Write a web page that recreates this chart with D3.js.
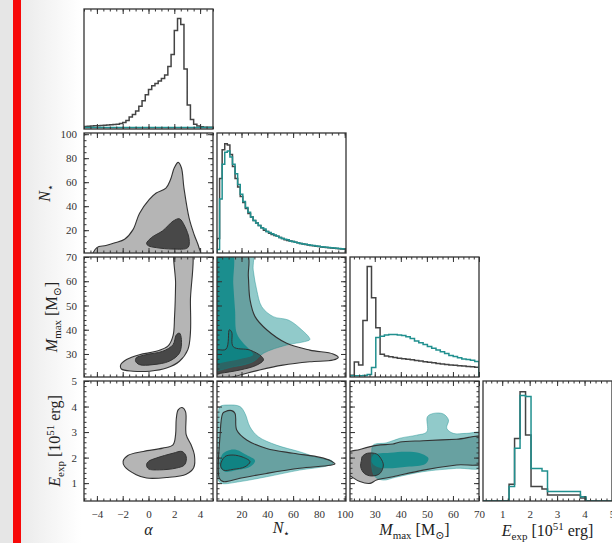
<!DOCTYPE html>
<html>
<head>
<meta charset="utf-8">
<script src="https://cdn.jsdelivr.net/npm/d3@7"></script>
<style>
  body { margin: 0; background: #fff; }
  svg { display: block; }
  .tick text { font-family: 'Liberation Serif', 'DejaVu Serif', serif; font-size: 11px; fill: #333; }
  .tick line { stroke: #333; }
  .label { font-family: 'Liberation Serif', 'DejaVu Serif', serif; font-size: 16px; fill: #222; }
</style>
</head>
<body>
<div class="canvas"></div>
<script>
// parameters (alpha, N*, Mmax, Eexp)
const paramDomains = [[-5, 5], [1, 101], [20.5, 70], [0.3, 5]];
const majorTicks = [[-4, -2, 0, 2, 4], [20, 40, 60, 80, 100], [30, 40, 50, 60, 70], [1, 2, 3, 4, 5]];
const minorSteps = [0.5, 5, 2, 0.2];

// 1D marginal histograms (relative heights)
const histBinStart = [-5, 1, 20.5, 0.25];
const histBinWidth = [0.25, 2, 1.65, 0.2];

const alphaHistGray = [0.02, 0.022, 0.025, 0.027, 0.028, 0.03, 0.032, 0.033, 0.035, 0.037, 0.04, 0.045,
  0.055, 0.07, 0.1, 0.12, 0.15, 0.19, 0.235, 0.285, 0.33, 0.36, 0.38, 0.4, 0.42, 0.45, 0.52, 0.62,
  0.82, 0.92, 0.87, 0.5, 0.2, 0.08, 0.04, 0.025, 0.018, 0.015, 0.015, 0.015];
const alphaHistTeal = [0.012, 0.012, 0.013, 0.012, 0.013, 0.012, 0.012, 0.013, 0.012, 0.012, 0.013, 0.012,
  0.012, 0.013, 0.012, 0.012, 0.013, 0.012, 0.012, 0.013, 0.012, 0.012, 0.013, 0.012, 0.012, 0.013,
  0.012, 0.012, 0.013, 0.012, 0.012, 0.013, 0.012, 0.012, 0.013, 0.012, 0.012, 0.013, 0.012, 0.012];

const nstarHistGray = [0.12, 0.62, 0.86, 0.91, 0.9, 0.82, 0.72, 0.62, 0.55, 0.47, 0.42, 0.37, 0.33, 0.3,
  0.27, 0.25, 0.23, 0.21, 0.19, 0.18, 0.165, 0.155, 0.145, 0.14, 0.13, 0.12, 0.11, 0.105, 0.1, 0.095,
  0.09, 0.085, 0.08, 0.075, 0.07, 0.066, 0.063, 0.06, 0.057, 0.054, 0.051, 0.048, 0.046, 0.044, 0.042,
  0.04, 0.038, 0.036, 0.034, 0.032];
const nstarHistTeal = [0.03, 0.45, 0.74, 0.84, 0.85, 0.8, 0.74, 0.66, 0.57, 0.49, 0.43, 0.38, 0.34, 0.3,
  0.27, 0.25, 0.23, 0.21, 0.2, 0.18, 0.17, 0.16, 0.15, 0.14, 0.13, 0.12, 0.115, 0.11, 0.1, 0.095, 0.09,
  0.085, 0.08, 0.076, 0.072, 0.068, 0.065, 0.062, 0.059, 0.056, 0.053, 0.05, 0.048, 0.046, 0.044, 0.042,
  0.04, 0.038, 0.036, 0.034];

const mmaxHistGray = [0.015, 0.125, 0.1, 0.47, 0.92, 0.66, 0.41, 0.19, 0.175, 0.168, 0.162, 0.157, 0.152,
  0.148, 0.143, 0.138, 0.133, 0.128, 0.123, 0.118, 0.113, 0.108, 0.104, 0.1, 0.097, 0.094, 0.091, 0.088,
  0.085, 0.082];
const mmaxHistTeal = [0.01, 0.01, 0.01, 0.012, 0.02, 0.08, 0.33, 0.34, 0.35, 0.355, 0.355, 0.35, 0.345,
  0.335, 0.32, 0.3, 0.285, 0.27, 0.255, 0.24, 0.225, 0.21, 0.195, 0.18, 0.17, 0.16, 0.15, 0.145, 0.14, 0.13];

const eexpHistGray = [0, 0, 0, 0, 0, 0.14, 0.52, 0.91, 0.55, 0.12, 0.12, 0.1, 0.05, 0.05, 0.05, 0.05,
  0.05, 0.05, 0.025, 0, 0, 0, 0, 0];
const eexpHistTeal = [0, 0, 0, 0, 0, 0.12, 0.44, 0.88, 0.87, 0.27, 0.27, 0.25, 0.08, 0.08, 0.08, 0.08,
  0.08, 0.08, 0.035, 0, 0, 0, 0, 0];

const histGray = [alphaHistGray, nstarHistGray, mmaxHistGray, eexpHistGray];
const histTeal = [alphaHistTeal, nstarHistTeal, mmaxHistTeal, eexpHistTeal];

// 2D credible regions, outline points in data units [x, y]
const alphaNstarGrayOuter = [[-4.3, -2], [-4.0, 5.5], [-3.3, 7.2], [-2.6, 9.5], [-1.85, 12.5], [-1.2, 20.5],
  [-0.7, 34], [0.05, 45.5], [0.6, 51], [1.35, 55], [1.7, 62], [2.0, 72], [2.3, 76.5], [2.55, 72], [2.75, 55],
  [3.15, 30], [3.55, 16], [3.9, 6], [4.0, -2]];
const alphaNstarGrayInner = [[-0.15, 9], [0.25, 14], [1.1, 19.5], [1.9, 27.5], [2.4, 29.5], [2.8, 23.5],
  [3.15, 12.5], [3.05, 5.5], [1.9, 4.3], [0.6, 5.5], [0.0, 7]];

const alphaMmaxGrayOuter = [[2.1, 74], [2.1, 59], [2.02, 45.5], [1.9, 37.5], [1.5, 33.2], [0.6, 31.1],
  [-0.7, 29.7], [-1.7, 27.7], [-2.15, 25.6], [-2.1, 23.8], [-1.2, 22.9], [0.1, 22.9], [1.4, 24.2], [2.4, 27],
  [3.05, 31.8], [3.25, 38.7], [3.25, 52], [3.25, 74]];
const alphaMmaxGrayInner = [[-0.95, 28.4], [-0.2, 29.7], [1.1, 31.1], [1.9, 33.8], [2.15, 37.8], [2.4, 38.6],
  [2.55, 36], [2.4, 30.4], [1.6, 27], [0.35, 25.6], [-0.7, 25.6], [-1.0, 27]];

const alphaEexpGrayOuter = [[2.3, 3.87], [2.6, 3.96], [2.87, 3.8], [2.92, 2.9], [3.3, 2.5], [3.56, 2.1],
  [3.5, 1.6], [2.92, 1.35], [1.4, 1.22], [-0.15, 1.2], [-0.95, 1.33], [-1.85, 1.65], [-1.97, 1.85],
  [-1.6, 2.08], [-0.4, 2.24], [1.1, 2.37], [1.9, 2.5], [2.1, 2.9], [2.15, 3.5]];
const alphaEexpGrayInner = [[0, 1.85], [0.6, 1.98], [1.9, 2.17], [2.6, 2.24], [2.92, 2.04], [2.8, 1.72],
  [2.15, 1.59], [0.85, 1.52], [0, 1.56], [-0.15, 1.72]];

const nstarMmaxGrayOuter = [[-3, 72], [24, 72], [25.3, 62], [26.6, 52.3], [30.5, 45.4], [39.5, 40], [55, 34.4],
  [73, 31.6], [91, 30], [95, 28.6], [91, 27.5], [73, 26.8], [52, 25.4], [34, 23.4], [19, 21.3], [6, 19.5], [-3, 19]];
const nstarMmaxGrayInner = [[-3, 31.5], [8, 32], [10.6, 40], [12.4, 39], [13.6, 33], [26.6, 31.6], [35.7, 28.9],
  [37, 27.5], [31.8, 25.4], [18.8, 23.4], [3.3, 22], [-3, 21.5]];
const nstarMmaxTealOuter = [[-3, 72], [27.9, 72], [29.1, 64.6], [31.8, 56.4], [35.7, 49.5], [44.6, 45.4],
  [56.3, 44], [65.3, 40.6], [73, 36], [69, 35.1], [55, 33.7], [37, 30.3], [29, 26.8], [13.6, 24.7], [-3, 24]];
const nstarMmaxTealInner = [[-3, 72], [12.5, 72], [13.6, 59], [15, 48], [16.3, 38.5], [21.4, 34.4], [26.6, 31.6],
  [29, 29.6], [21.4, 28.2], [8.5, 26.8], [-3, 26.5]];

const nstarEexpGrayOuter = [[7.2, 3.8], [12.4, 3.84], [15, 3.73], [16.3, 3.08], [24, 2.69], [39.5, 2.36], [60, 2.17],
  [81, 2.01], [89, 1.88], [92.5, 1.75], [88.6, 1.7], [65, 1.58], [39.5, 1.38], [18.8, 1.19], [5.9, 1.06],
  [2.8, 1.19], [3.3, 2.82], [5.4, 3.73]];
const nstarEexpGrayInner = [[7.2, 2.04], [13.6, 2.1], [21.4, 2.01], [26.6, 1.84], [22.7, 1.64], [13.6, 1.54],
  [5.9, 1.51], [3.8, 1.71]];
const nstarEexpTealOuter = [[3.3, 4.0], [9.8, 4.06], [18.8, 4.0], [22.7, 3.73], [26.6, 3.2], [33, 2.82], [47, 2.49],
  [65, 2.23], [81, 1.97], [90, 1.88], [91.2, 1.78], [86, 1.67], [65, 1.51], [39.5, 1.25], [18.8, 1.06], [4.6, 0.99],
  [2, 1.12], [1.5, 2.5], [2, 3.7]];
const nstarEexpTealInner = [[5.9, 2.17], [11.1, 2.3], [16.3, 2.3], [24, 2.1], [30.5, 1.88], [26.6, 1.64],
  [16.3, 1.51], [7.2, 1.45], [3.3, 1.64], [3.8, 1.97]];

const mmaxEexpGrayOuter = [[19, 2.15], [24.3, 2.32], [30.7, 2.48], [37, 2.53], [39.7, 2.61], [48.6, 2.66],
  [61.4, 2.72], [72, 2.78], [72, 1.8], [61.4, 1.71], [48.6, 1.51], [37, 1.25], [30.7, 1.12], [28.2, 0.99],
  [24.3, 1.06], [21.1, 1.25], [19, 1.4]];
const mmaxEexpGrayInner = [[25.2, 2.04], [27.2, 2.17], [30.7, 2.14], [32.3, 1.97], [33.3, 1.71], [32, 1.38],
  [28.8, 1.28], [26, 1.38], [24.6, 1.64], [24.9, 1.9]];
const mmaxEexpTealOuter = [[29.4, 2.49], [34.6, 2.58], [39.7, 2.76], [46.1, 2.88], [50, 3.01], [50.2, 3.6],
  [52.5, 3.73], [56.3, 3.71], [58.3, 3.47], [57.6, 3.15], [60.1, 2.95], [65.3, 2.95], [72, 2.95], [72, 1.64],
  [61.4, 1.58], [48.6, 1.45], [38, 1.23], [33.3, 1.12], [30.1, 1.25], [28.8, 1.64], [28.8, 2.17]];
const mmaxEexpTealInner = [[29.4, 2.1], [35.9, 2.19], [42.3, 2.23], [47.4, 2.17], [50.6, 1.97], [49.4, 1.75],
  [42.3, 1.64], [34.6, 1.58], [30.7, 1.64], [28.8, 1.84]];

const regions = [
  { row: 1, col: 0, gray: [alphaNstarGrayOuter, alphaNstarGrayInner], teal: [] },
  { row: 2, col: 0, gray: [alphaMmaxGrayOuter, alphaMmaxGrayInner], teal: [] },
  { row: 3, col: 0, gray: [alphaEexpGrayOuter, alphaEexpGrayInner], teal: [] },
  { row: 2, col: 1, gray: [nstarMmaxGrayOuter, nstarMmaxGrayInner], teal: [nstarMmaxTealOuter, nstarMmaxTealInner] },
  { row: 3, col: 1, gray: [nstarEexpGrayOuter, nstarEexpGrayInner], teal: [nstarEexpTealOuter, nstarEexpTealInner] },
  { row: 3, col: 2, gray: [mmaxEexpGrayOuter, mmaxEexpGrayInner], teal: [mmaxEexpTealOuter, mmaxEexpTealInner] },
];

// axis labels
const labelParts = [
  [{ t: 'α', italic: true }],
  [{ t: 'N', italic: true }, { t: '⋆', sub: true }],
  [{ t: 'M', italic: true }, { t: 'max', sub: true }, { t: ' [M' }, { t: '⊙', sub: true }, { t: ']' }],
  [{ t: 'E', italic: true }, { t: 'exp', sub: true }, { t: ' [10' }, { t: '51', sup: true }, { t: ' erg]' }],
];

const COLOR = {
  grayLight: '#b5b5b5',
  grayDark: '#484848',
  edge: '#333',
  teal: '#0a8a8a',
  tealLine: '#21908f',
  histGray: '#444',
};

const W = 612;
const H = 543;
const panelW = 129;
const panelH = 120;
const gap = 4;
const gridLeft = 84;
const gridTop = 9;

const svg = d3.select('.canvas').append('svg').attr('width', W).attr('height', H);

const defs = svg.append('defs');
const grad = defs.append('linearGradient').attr('id', 'fade').attr('x1', 0).attr('x2', 1);
grad.append('stop').attr('offset', 0).attr('stop-color', '#ebebeb');
grad.append('stop').attr('offset', 1).attr('stop-color', '#ffffff');

svg.append('rect').attr('width', W).attr('height', H).attr('fill', '#fff');
svg.append('rect').attr('x', 0).attr('width', 13).attr('height', H).attr('fill', '#e6e6e6');
svg.append('rect').attr('x', 21).attr('width', 60).attr('height', H).attr('fill', 'url(#fade)');
svg.append('rect').attr('x', 13).attr('width', 8).attr('height', H).attr('fill', '#f70808');

const xScales = paramDomains.map((d, j) => {
  const x0 = gridLeft + j * (panelW + gap);
  return d3.scaleLinear().domain(d).range([x0, x0 + panelW]);
});
const yScales = paramDomains.map((d, i) => {
  const y0 = gridTop + i * (panelH + gap);
  return d3.scaleLinear().domain(d).range([y0 + panelH, y0]);
});

const minorValues = j => {
  const [a, b] = paramDomains[j];
  const s = minorSteps[j];
  return d3.range(Math.ceil(a / s) * s, b + 1e-9, s).map(v => +v.toFixed(4));
};

const panelGroup = (row, col) => {
  const x = xScales[col];
  const y = yScales[row];
  const id = `clip-${row}-${col}`;
  defs.append('clipPath').attr('id', id)
    .append('rect')
    .attr('x', x.range()[0]).attr('y', y.range()[1])
    .attr('width', panelW).attr('height', panelH);
  const g = svg.append('g').attr('id', `panel-${row}-${col}`);
  g.append('rect')
    .attr('x', x.range()[0]).attr('y', y.range()[1])
    .attr('width', panelW).attr('height', panelH)
    .attr('fill', '#fff');
  const content = g.append('g').attr('clip-path', `url(#${id})`);
  return { g, content };
};

const drawTicks = (g, row, col) => {
  const x = xScales[col];
  const y = yScales[row];
  const diag = row === col;
  const xMinor = minorValues(col);
  const yMinor = minorValues(row);
  const fmt = d3.format('');

  const place = (axis, tx, ty) => g.append('g')
    .attr('transform', `translate(${tx},${ty})`)
    .call(axis)
    .call(s => s.select('.domain').remove());

  // bottom
  place(d3.axisBottom(x).tickValues(xMinor).tickSize(-2.5).tickFormat(''), 0, y.range()[0]);
  place(d3.axisBottom(x).tickValues(majorTicks[col]).tickSize(-5).tickPadding(9)
    .tickFormat(row === 3 ? fmt : ''), 0, y.range()[0]);
  // top
  place(d3.axisTop(x).tickValues(xMinor).tickSize(-2.5).tickFormat(''), 0, y.range()[1]);
  place(d3.axisTop(x).tickValues(majorTicks[col]).tickSize(-5).tickFormat(''), 0, y.range()[1]);

  if (diag) return;
  // left
  place(d3.axisLeft(y).tickValues(yMinor).tickSize(-2.5).tickFormat(''), x.range()[0], 0);
  place(d3.axisLeft(y).tickValues(majorTicks[row]).tickSize(-5).tickPadding(7)
    .tickFormat(col === 0 ? fmt : ''), x.range()[0], 0);
  // right
  place(d3.axisRight(y).tickValues(yMinor).tickSize(-2.5).tickFormat(''), x.range()[1], 0);
  place(d3.axisRight(y).tickValues(majorTicks[row]).tickSize(-5).tickFormat(''), x.range()[1], 0);
};

const drawBorder = (g, row, col) => {
  g.append('rect')
    .attr('x', xScales[col].range()[0]).attr('y', yScales[row].range()[1])
    .attr('width', panelW).attr('height', panelH)
    .attr('fill', 'none')
    .attr('stroke', COLOR.edge)
    .attr('stroke-width', 1.3);
};

// diagonal histograms
const stepPoints = (start, width, heights) => {
  const pts = [[start, 0]];
  heights.forEach((h, i) => {
    pts.push([start + i * width, h]);
    pts.push([start + (i + 1) * width, h]);
  });
  pts.push([start + heights.length * width, 0]);
  return pts;
};

paramDomains.forEach((d, k) => {
  const { g, content } = panelGroup(k, k);
  const x = xScales[k];
  const yr = yScales[k].range();
  const hy = d3.scaleLinear().domain([0, 1]).range(yr);
  const line = d3.line().x(p => x(p[0])).y(p => hy(p[1]));

  content.append('path')
    .attr('d', line(stepPoints(histBinStart[k], histBinWidth[k], histGray[k])))
    .attr('fill', 'none')
    .attr('stroke', COLOR.histGray)
    .attr('stroke-width', 1.5);
  content.append('path')
    .attr('d', line(stepPoints(histBinStart[k], histBinWidth[k], histTeal[k])))
    .attr('fill', 'none')
    .attr('stroke', COLOR.tealLine)
    .attr('stroke-width', 1.5);

  drawTicks(g, k, k);
  drawBorder(g, k, k);
});

// off-diagonal credible regions
regions.forEach(r => {
  const { g, content } = panelGroup(r.row, r.col);
  const x = xScales[r.col];
  const y = yScales[r.row];
  const shape = d3.line()
    .x(p => x(p[0]))
    .y(p => y(p[1]))
    .curve(d3.curveCatmullRomClosed.alpha(0.5));

  const [gOuter, gInner] = r.gray;
  content.append('path').attr('d', shape(gOuter)).attr('fill', COLOR.grayLight);
  content.append('path').attr('d', shape(gInner)).attr('fill', COLOR.grayDark);

  if (r.teal.length) {
    const [tOuter, tInner] = r.teal;
    content.append('path').attr('d', shape(tOuter))
      .attr('fill', COLOR.teal).attr('fill-opacity', 0.45)
      .attr('stroke', COLOR.teal).attr('stroke-opacity', 0.5).attr('stroke-width', 0.8);
    content.append('path').attr('d', shape(tInner))
      .attr('fill', COLOR.teal).attr('fill-opacity', 0.82);
  }

  content.append('path').attr('d', shape(gOuter))
    .attr('fill', 'none').attr('stroke', COLOR.edge).attr('stroke-width', 1.1);
  content.append('path').attr('d', shape(gInner))
    .attr('fill', 'none').attr('stroke', COLOR.edge).attr('stroke-width', 1);

  drawTicks(g, r.row, r.col);
  drawBorder(g, r.row, r.col);
});

// axis labels
const richText = (text, parts) => {
  let shift = 0;
  parts.forEach(p => {
    const off = p.sub ? 4 : p.sup ? -6 : 0;
    const t = text.append('tspan').text(p.t).attr('dy', off - shift);
    shift = off;
    if (p.italic) t.attr('font-style', 'italic');
    if (p.sub || p.sup) t.attr('font-size', 11);
  });
};

const xLabelBaseline = [535, 533, 535, 536];
labelParts.forEach((parts, j) => {
  const x = xScales[j];
  const text = svg.append('text')
    .attr('class', 'label')
    .attr('x', (x.range()[0] + x.range()[1]) / 2)
    .attr('y', xLabelBaseline[j])
    .attr('text-anchor', 'middle');
  richText(text, parts);
});

const yLabelBaseline = [0, 50, 57, 60];
labelParts.forEach((parts, i) => {
  if (i === 0) return;
  const yr = yScales[i].range();
  const cy = (yr[0] + yr[1]) / 2;
  const text = svg.append('text')
    .attr('class', 'label')
    .attr('transform', `translate(${yLabelBaseline[i]},${cy}) rotate(-90)`)
    .attr('text-anchor', 'middle');
  richText(text, parts);
});
</script>
</body>
</html>
